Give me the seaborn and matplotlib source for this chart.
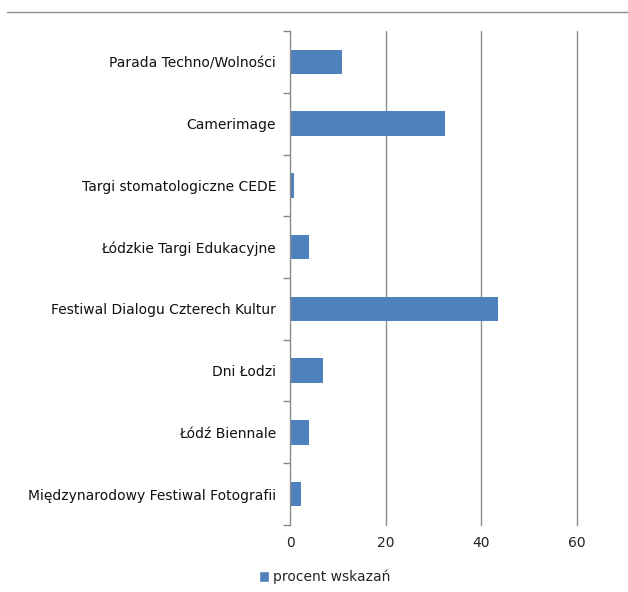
import seaborn as sns
import matplotlib.pyplot as plt
import pandas as pd
from matplotlib.lines import Line2D
from matplotlib.patches import Patch

# Dane
wydarzenia = [
    'Parada Techno/Wolności',
    'Camerimage',
    'Targi stomatologiczne CEDE',
    'Łódzkie Targi Edukacyjne',
    'Festiwal Dialogu Czterech Kultur',
    'Dni Łodzi',
    'Łódź Biennale',
    'Międzynarodowy Festiwal Fotografii',
]
procent = [10.8, 32.3, 0.9, 3.9, 43.4, 7.0, 3.9, 2.2]
x_ticks = [0, 20, 40, 60]

df = pd.DataFrame({'Wydarzenie': wydarzenia, 'Procent': procent})

sns.set_style('white')
plt.rcParams['font.family'] = ['DejaVu Sans']

fig = plt.figure(figsize=(6.28, 5.92), dpi=100)
ax = fig.add_axes([0.4618, 0.1132, 0.4570, 0.8344])

kolor = '#4F81BD'
sns.barplot(data=df, x='Procent', y='Wydarzenie', orient='h', color=kolor,
            width=0.4, saturation=1, linewidth=0, ax=ax, zorder=3)

ax.set_xlim(0, 60)
ax.set_ylim(len(wydarzenia) - 0.5, -0.5)
ax.set_xticks(x_ticks)
ax.set_xticklabels([str(t) for t in x_ticks], fontsize=10, color='#222222')
ax.tick_params(axis='x', length=0, pad=8)
ax.tick_params(axis='y', which='major', left=False, length=0, pad=10,
               labelsize=10, labelcolor='#111111')
ax.set_yticks([i - 0.5 for i in range(len(wydarzenia) + 1)], minor=True)
ax.tick_params(axis='y', which='minor', left=True, length=5, direction='out',
               color='#888888', width=1)
ax.set_xlabel('')
ax.set_ylabel('')

for x in x_ticks[1:]:
    ax.axvline(x, color='#8C8C8C', lw=1, zorder=1, clip_on=False)

for s in ['top', 'right', 'bottom']:
    ax.spines[s].set_visible(False)
ax.spines['left'].set_color('#8C8C8C')
ax.spines['left'].set_linewidth(1)
ax.spines['left'].set_zorder(4)

# linia u góry ramki wykresu
fig.add_artist(Line2D([7 / 628, 1.0], [1 - 12 / 592, 1 - 12 / 592],
                      color='#8C8C8C', lw=1, transform=fig.transFigure))

fig.legend(handles=[Patch(facecolor=kolor, label='procent wskazań')],
           loc='center', bbox_to_anchor=(325 / 628, 1 - 577 / 592), frameon=False,
           fontsize=10, handlelength=0.7, handleheight=0.9, handletextpad=0.3)

fig.savefig('out.png', dpi=100)
